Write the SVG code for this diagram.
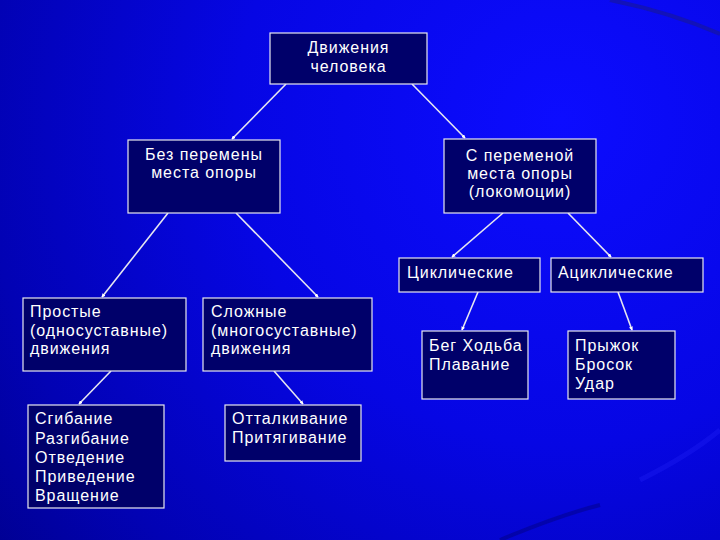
<svg xmlns="http://www.w3.org/2000/svg" width="720" height="540" viewBox="0 0 720 540">
<defs>
<radialGradient id="bg" cx="560" cy="120" r="720" gradientUnits="userSpaceOnUse">
<stop offset="0" stop-color="#0c0cff"/>
<stop offset="0.45" stop-color="#0606e4"/>
<stop offset="0.8" stop-color="#0202b4"/>
<stop offset="1" stop-color="#000090"/>
</radialGradient>
<marker id="dot" viewBox="0 0 6 6" refX="5" refY="3" markerWidth="4" markerHeight="4" orient="auto" markerUnits="userSpaceOnUse">
<path d="M0,0 L6,3 L0,6 z" fill="#ffffff"/>
</marker>
<style>
.box{fill:#00006a;stroke:#e8e8f0;stroke-width:1.2}
.t{font-family:"Liberation Sans",Arial,sans-serif;font-size:16px;fill:#ffffff;letter-spacing:0.95px}
.c{text-anchor:middle}
.ln{stroke:#e6e6f0;stroke-width:1.6;fill:none;marker-end:url(#dot)}
</style>
</defs>
<rect width="720" height="540" fill="url(#bg)"/>
<path d="M610,0 Q670,12 720,34" stroke="#1a1a8a" stroke-width="4" fill="none" opacity="0.55"/>
<path d="M640,480 Q690,455 720,430" stroke="#2a2aff" stroke-width="5" fill="none" opacity="0.25"/>
<path d="M500,540 Q560,515 600,505" stroke="#000060" stroke-width="4" fill="none" opacity="0.35"/>

<g id="connectors">
<line class="ln" x1="286" y1="84" x2="232" y2="139"/>
<line class="ln" x1="412" y1="84" x2="465" y2="138"/>
<line class="ln" x1="168" y1="213" x2="102" y2="297"/>
<line class="ln" x1="236" y1="213" x2="318" y2="297"/>
<line class="ln" x1="503" y1="213" x2="452" y2="257"/>
<line class="ln" x1="568" y1="213" x2="611" y2="257"/>
<line class="ln" x1="478" y1="292" x2="462" y2="330"/>
<line class="ln" x1="618" y1="292" x2="632" y2="330"/>
<line class="ln" x1="111" y1="371" x2="79" y2="404"/>
<line class="ln" x1="274" y1="371" x2="303" y2="404"/>
</g>

<g id="n-root">
<rect class="box" x="270" y="33" width="157" height="51"/>
<text class="t c" x="348.5" y="53">Движения</text>
<text class="t c" x="348.5" y="72">человека</text>
</g>
<g id="n-bez">
<rect class="box" x="128" y="140" width="152" height="73"/>
<text class="t c" x="204" y="160">Без перемены</text>
<text class="t c" x="204" y="178">места опоры</text>
</g>
<g id="n-s">
<rect class="box" x="444" y="139" width="152" height="74"/>
<text class="t c" x="520" y="161">С переменой</text>
<text class="t c" x="520" y="179">места опоры</text>
<text class="t c" x="520" y="197">(локомоции)</text>
</g>
<g id="n-prostye">
<rect class="box" x="23" y="298" width="163" height="73"/>
<text class="t" x="30" y="317">Простые</text>
<text class="t" x="30" y="335.5">(односуставные)</text>
<text class="t" x="30" y="354">движения</text>
</g>
<g id="n-slozhnye">
<rect class="box" x="203" y="298" width="169" height="73"/>
<text class="t" x="211" y="317">Сложные</text>
<text class="t" x="211" y="335.5">(многосуставные)</text>
<text class="t" x="211" y="354">движения</text>
</g>
<g id="n-cikl">
<rect class="box" x="399" y="258" width="141" height="34"/>
<text class="t" x="407" y="278">Циклические</text>
</g>
<g id="n-acikl">
<rect class="box" x="551" y="258" width="152" height="34"/>
<text class="t" x="558" y="278">Ациклические</text>
</g>
<g id="n-beg">
<rect class="box" x="422" y="331" width="106" height="68"/>
<text class="t" x="429" y="351">Бег Ходьба</text>
<text class="t" x="429" y="370">Плавание</text>
</g>
<g id="n-pryzhok">
<rect class="box" x="568" y="331" width="107" height="68"/>
<text class="t" x="575" y="351">Прыжок</text>
<text class="t" x="575" y="370">Бросок</text>
<text class="t" x="575" y="389">Удар</text>
</g>
<g id="n-sgib">
<rect class="box" x="28" y="405" width="136" height="103"/>
<text class="t" x="35" y="424">Сгибание</text>
<text class="t" x="35" y="443.5">Разгибание</text>
<text class="t" x="35" y="462.5">Отведение</text>
<text class="t" x="35" y="482">Приведение</text>
<text class="t" x="35" y="501">Вращение</text>
</g>
<g id="n-ottalk">
<rect class="box" x="225" y="405" width="136" height="56"/>
<text class="t" x="232" y="424">Отталкивание</text>
<text class="t" x="232" y="443">Притягивание</text>
</g>
</svg>
